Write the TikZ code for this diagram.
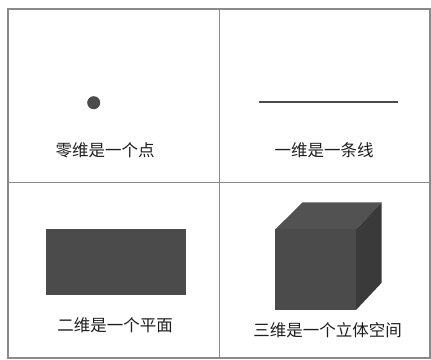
\documentclass[tikz,border=0pt]{standalone}
\usepackage{fontspec}
\newfontfamily\cjk{Noto Sans CJK SC}
\definecolor{gridgray}{HTML}{8A8A8A}
\definecolor{fillmain}{HTML}{4B4B4B}
\definecolor{filltop}{HTML}{525252}
\definecolor{fillside}{HTML}{3A3A3A}
\definecolor{txt}{HTML}{1E1E1E}
\begin{document}
\begin{tikzpicture}[x=1pt,y=-1pt,
  cell/.style={draw=gridgray,line width=1.3pt},
  lbl/.style={font=\cjk\fontsize{16.5}{18}\selectfont,text=txt,inner sep=0pt}]
\useasboundingbox (0,0) rectangle (431,359);
\fill[white] (0,0) rectangle (431,359);
% grid cells
\draw[cell] (8,9) rectangle (219.5,182.5);
\draw[cell] (219.5,9) rectangle (430,182.5);
\draw[cell] (8,182.5) rectangle (219.5,358);
\draw[cell] (219.5,182.5) rectangle (430,358);
% zero dimension: point
\fill[fillmain] (93.7,102.7) circle (6.5);
\node[lbl] (t0) at (105,150) {零维是一个点};
% one dimension: line
\coordinate (l1) at (258.7,101.7);
\coordinate (l2) at (397.7,101.7);
\draw[fillmain,line width=1.6pt] (l1) -- (l2);
\node[lbl] (t1) at (324,150) {一维是一条线};
% two dimensions: plane
\fill[fillmain] (46.3,228.7) rectangle (185.7,294.7);
\node[lbl] (t2) at (115,325) {二维是一个平面};
% three dimensions: cube
\fill[filltop] (275.3,229.3) -- (302.7,202.3) -- (381.7,202.3) -- (356,229.3) -- cycle;
\fill[fillside] (356,229.3) -- (381.7,202.3) -- (381.7,282.7) -- (356,310) -- cycle;
\fill[fillmain] (275.3,229.3) rectangle (356,310);
\node[lbl] (t3) at (327.7,330) {三维是一个立体空间};
\end{tikzpicture}
\end{document}
